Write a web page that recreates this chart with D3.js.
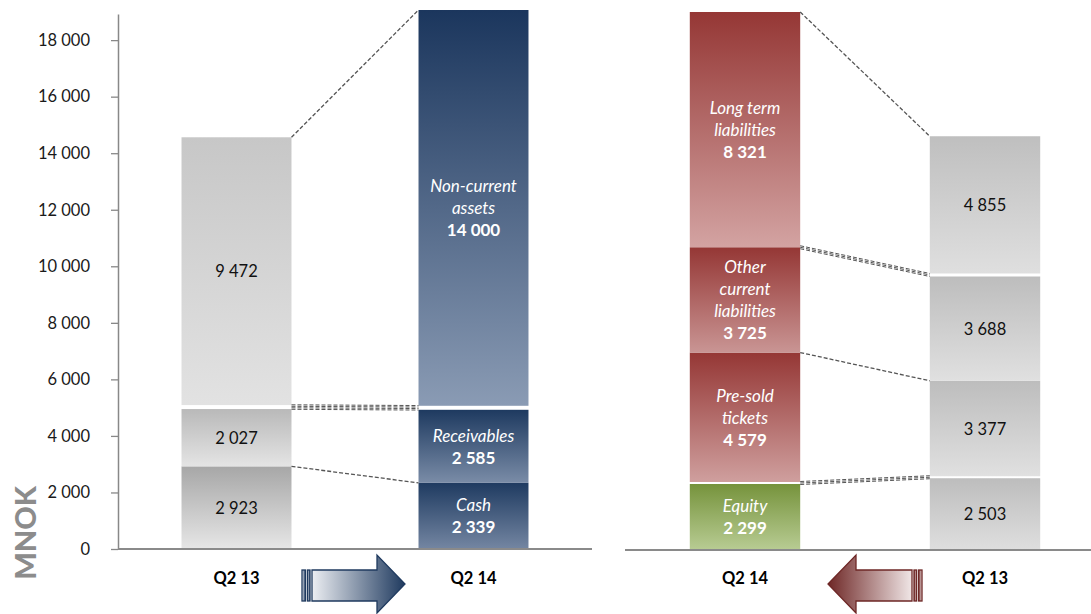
<!DOCTYPE html>
<html>
<head>
<meta charset="utf-8">
<script src="https://cdn.jsdelivr.net/npm/d3@7"></script>
<style>
  html, body { margin: 0; padding: 0; background: #fff; }
  svg { display: block; font-family: Lato, "Open Sans", sans-serif; }
</style>
</head>
<body>
<svg id="chart" width="1091" height="614"></svg>
<script>
// Balance sheet, MNOK: assets (left) and equity & liabilities (right)
const assetPeriods = ["Q2 13", "Q2 14"];
const liabPeriods = ["Q2 14", "Q2 13"];

const assetNames = ["Cash", "Receivables", "Non-current assets"];
const assetsQ213 = [2923, 2027, 9472];
const assetsQ214 = [2339, 2585, 14000];
const assetLabelLines = [["Cash"], ["Receivables"], ["Non-current", "assets"]];

const liabNames = ["Equity", "Pre-sold tickets", "Other current liabilities", "Long term liabilities"];
const liabQ214 = [2299, 4579, 3725, 8321];
const liabQ213 = [2503, 3377, 3688, 4855];
const liabLabelLines = [["Equity"], ["Pre-sold", "tickets"], ["Other", "current", "liabilities"], ["Long term", "liabilities"]];

const yTicks = [0, 2000, 4000, 6000, 8000, 10000, 12000, 14000, 16000, 18000];
const yMax = d3.sum(assetsQ214);

const svg = d3.select("#chart");
const defs = svg.append("defs");

const fmt = d3.formatLocale({ decimal: ",", thousands: " ", grouping: [3], currency: ["", ""] }).format(",d");

const baseY = 549;
const y = d3.scaleLinear().domain([0, yMax]).range([baseY, 14]);

const xLeft = d3.scaleBand().domain(assetPeriods).range([118, 592]).paddingInner(0.536).paddingOuter(0.268);
const xRight = d3.scaleBand().domain(liabPeriods).range([625, 1105]).paddingInner(0.54).paddingOuter(0.27);

// vertical gradients, top colour -> bottom colour
function grad(id, top, bottom) {
  const g = defs.append("linearGradient").attr("id", id).attr("x1", 0).attr("y1", 0).attr("x2", 0).attr("y2", 1);
  g.append("stop").attr("offset", "0%").attr("stop-color", top);
  g.append("stop").attr("offset", "100%").attr("stop-color", bottom);
  return `url(#${id})`;
}

const fillsAssetQ213 = [grad("ga0", "#a7a7a7", "#e6e6e6"), grad("ga1", "#b9b9b9", "#e4e4e4"), grad("ga2", "#c7c7c7", "#e2e2e2")];
const fillsAssetQ214 = [grad("ba0", "#1f3b61", "#7486a2"), grad("ba1", "#1e3a60", "#7a8ca7"), grad("ba2", "#1b365d", "#8a9bb4")];
const fillsLiabQ214 = [grad("rl0", "#76933c", "#b7cb92"), grad("rl1", "#953735", "#cf9f9e"), grad("rl2", "#953735", "#c99594"), grad("rl3", "#953735", "#d3a3a2")];
const fillsLiabQ213 = [grad("gl0", "#bdbdbd", "#dedede"), grad("gl1", "#bdbdbd", "#e0e0e0"), grad("gl2", "#bdbdbd", "#e0e0e0"), grad("gl3", "#bfbfbf", "#dfdfdf")];

// white spacing (px) placed below each segment
const gapsAssetQ213 = [0, 0, 4];
const gapsAssetQ214 = [0, 0, 4];
const gapsLiabQ214 = [0, 2, 0, 0];
const gapsLiabQ213 = [0, 2, 0, 3];

function layoutStack(values, gaps) {
  let top = baseY;
  return values.map((v, i) => {
    const bottom = top - gaps[i];
    const h = y(0) - y(v);
    top = bottom - h;
    return { v, bottom, top };
  });
}

const stacks = {
  aL: layoutStack(assetsQ213, gapsAssetQ213),
  aR: layoutStack(assetsQ214, gapsAssetQ214),
  lL: layoutStack(liabQ214, gapsLiabQ214),
  lR: layoutStack(liabQ213, gapsLiabQ213)
};

function drawBar(segs, x0, w, fills) {
  svg.append("g").selectAll("rect").data(segs).join("rect")
    .attr("x", x0).attr("width", w)
    .attr("y", d => d.top).attr("height", d => d.bottom - d.top)
    .attr("fill", (d, i) => fills[i]);
}

function greyLabels(segs, cx) {
  svg.append("g").selectAll("text").data(segs).join("text")
    .attr("x", cx).attr("y", d => (d.top + d.bottom) / 2)
    .attr("text-anchor", "middle").attr("dominant-baseline", "central")
    .attr("font-size", 16.5).attr("fill", "#111")
    .text(d => fmt(d.v));
}

function colourLabels(segs, cx, lines) {
  const lh = 22;
  segs.forEach((d, i) => {
    const rows = lines[i].concat([fmt(d.v)]);
    const cy = (d.top + d.bottom) / 2;
    const start = cy - (rows.length - 1) * lh / 2;
    const t = svg.append("g");
    rows.forEach((r, k) => {
      const last = k === rows.length - 1;
      t.append("text")
        .attr("x", cx).attr("y", start + k * lh)
        .attr("text-anchor", "middle").attr("dominant-baseline", "central")
        .attr("font-size", 17).attr("fill", "#fff")
        .attr("font-style", last ? "normal" : "italic")
        .attr("font-weight", last ? "bold" : "normal")
        .text(r);
    });
  });
}

// connectors between two stacks: boundary k = top of segment k
function connector(segsA, xA, segsB, xB, k, n) {
  const side = (segs) => {
    const lowTop = segs[k].top;
    const upBottom = k + 1 < segs.length ? segs[k + 1].bottom : lowTop;
    const gap = lowTop - upBottom;
    const c = (lowTop + upBottom) / 2;
    const sp = n > 1 ? Math.max(gap / (n - 1), 1.5) : 0;
    return d3.range(n).map(i => c + (i - (n - 1) / 2) * sp);
  };
  const ya = side(segsA), yb = side(segsB);
  const g = svg.append("g");
  d3.range(n).forEach(i => {
    g.append("line")
      .attr("x1", xA).attr("y1", ya[i]).attr("x2", xB).attr("y2", yb[i])
      .attr("stroke", "#555").attr("stroke-width", n > 1 ? 1 : 1.3)
      .attr("stroke-dasharray", "4 2");
  });
}

// ---- left panel: assets
const bw = xLeft.bandwidth();
const xa0 = xLeft("Q2 13"), xa1 = xLeft("Q2 14");
drawBar(stacks.aL, xa0, bw, fillsAssetQ213);
drawBar(stacks.aR, xa1, bw, fillsAssetQ214);
greyLabels(stacks.aL, xa0 + bw / 2);
colourLabels(stacks.aR, xa1 + bw / 2, assetLabelLines);

connector(stacks.aL, xa0 + bw, stacks.aR, xa1, 0, 1);
connector(stacks.aL, xa0 + bw, stacks.aR, xa1, 1, 4);
connector(stacks.aL, xa0 + bw, stacks.aR, xa1, 2, 1);

// ---- right panel: equity & liabilities
const bw2 = xRight.bandwidth();
const xl0 = xRight("Q2 14"), xl1 = xRight("Q2 13");
drawBar(stacks.lL, xl0, bw2, fillsLiabQ214);
drawBar(stacks.lR, xl1, bw2, fillsLiabQ213);
colourLabels(stacks.lL, xl0 + bw2 / 2, liabLabelLines);
greyLabels(stacks.lR, xl1 + bw2 / 2);

connector(stacks.lL, xl0 + bw2, stacks.lR, xl1, 0, 3);
connector(stacks.lL, xl0 + bw2, stacks.lR, xl1, 1, 1);
connector(stacks.lL, xl0 + bw2, stacks.lR, xl1, 2, 3);
connector(stacks.lL, xl0 + bw2, stacks.lR, xl1, 3, 1);

// ---- axes
const yAxis = d3.axisLeft(y).tickValues(yTicks).tickFormat(fmt).tickSizeInner(7).tickSizeOuter(0).tickPadding(21);
const gy = svg.append("g").attr("transform", "translate(118,0)").call(yAxis);
gy.select(".domain").attr("stroke", "#888").attr("stroke-width", 1.5);
gy.selectAll(".tick line").attr("stroke", "#888").attr("stroke-width", 1.3);
gy.selectAll(".tick text").attr("font-size", 16.5).attr("fill", "#1a1a1a").attr("font-family", "Lato, sans-serif");

svg.append("line").attr("x1", 118).attr("x2", 592).attr("y1", baseY).attr("y2", baseY)
  .attr("stroke", "#8a8a8a").attr("stroke-width", 2);
svg.append("line").attr("x1", 625).attr("x2", 1091).attr("y1", baseY + 1).attr("y2", baseY + 1)
  .attr("stroke", "#8a8a8a").attr("stroke-width", 2);

// category labels
svg.append("g").selectAll("text").data(assetPeriods).join("text")
  .attr("x", d => xLeft(d) + bw / 2).attr("y", 578)
  .attr("text-anchor", "middle").attr("dominant-baseline", "central")
  .attr("font-size", 16.5).attr("font-weight", "bold").attr("fill", "#000").text(d => d);
svg.append("g").selectAll("text").data(liabPeriods).join("text")
  .attr("x", d => xRight(d) + bw2 / 2).attr("y", 578)
  .attr("text-anchor", "middle").attr("dominant-baseline", "central")
  .attr("font-size", 16.5).attr("font-weight", "bold").attr("fill", "#000").text(d => d);

svg.append("text")
  .attr("transform", "translate(24,533) rotate(-90)")
  .attr("text-anchor", "middle").attr("dominant-baseline", "central")
  .attr("font-size", 29).attr("font-weight", "900").attr("fill", "#8c8c8c")
  .text("MNOK");

// ---- direction arrows
function stripedArrow(id, x0, x1, dir, dark, light) {
  const g = defs.append("linearGradient").attr("id", id).attr("x1", 0).attr("y1", 0).attr("x2", 1).attr("y2", 0);
  g.append("stop").attr("offset", "0%").attr("stop-color", dir > 0 ? light : dark);
  g.append("stop").attr("offset", "100%").attr("stop-color", dir > 0 ? dark : light);
  const bodyTop = 570, bodyBot = 601, headTop = 555, headBot = 613, mid = 584;
  const len = Math.abs(x1 - x0);
  // tail at x0, tip at x1
  const p = (t) => x0 + dir * t;
  const s1 = 3.5, s2 = 7, s3 = 10;
  const neck = len - 28;
  const grp = svg.append("g").attr("stroke", dark).attr("stroke-width", 1.3).attr("fill", `url(#${id})`);
  const xs = [p(0), p(s1)].sort((a, b) => a - b);
  grp.append("rect").attr("x", xs[0]).attr("y", bodyTop).attr("width", xs[1] - xs[0]).attr("height", bodyBot - bodyTop);
  const xs2 = [p(s2 - 1.5), p(s2 + 1)].sort((a, b) => a - b);
  grp.append("rect").attr("x", xs2[0]).attr("y", bodyTop).attr("width", xs2[1] - xs2[0]).attr("height", bodyBot - bodyTop);
  const pts = [
    [p(s3), bodyTop], [p(neck), bodyTop], [p(neck), headTop], [p(len), mid],
    [p(neck), headBot], [p(neck), bodyBot], [p(s3), bodyBot]
  ];
  grp.append("path").attr("d", d3.line()(pts) + "Z");
}
stripedArrow("arrowBlue", 302, 405, 1, "#1f3a5f", "#eceef2");
stripedArrow("arrowRed", 922, 828, -1, "#6e2726", "#f0e6e6");
</script>
</body>
</html>
